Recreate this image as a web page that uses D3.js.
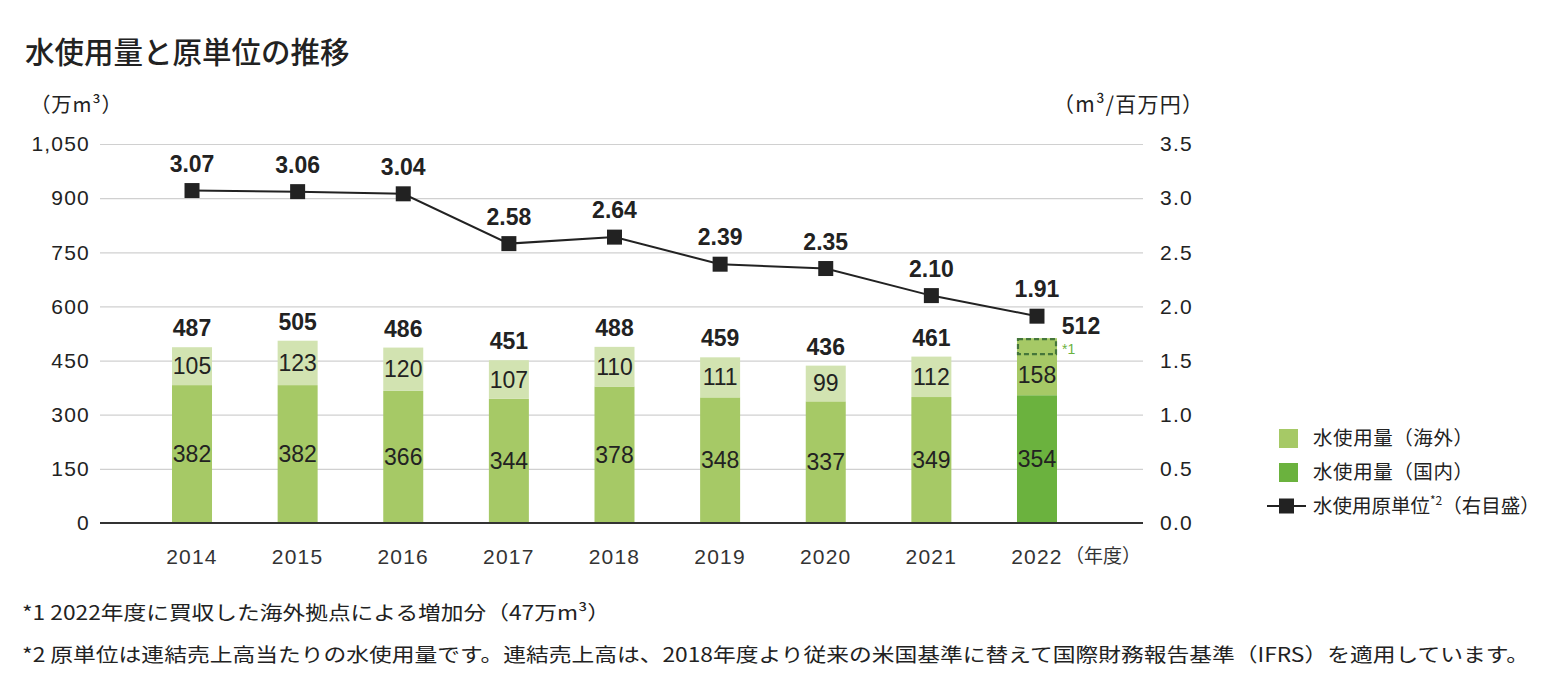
<!DOCTYPE html>
<html>
<head>
<meta charset="utf-8">
<script src="https://cdn.jsdelivr.net/npm/d3@7/dist/d3.min.js"></script>
<style>
  html, body { margin: 0; padding: 0; background: #fff; }
  svg { display: block; }
  text { font-family: "Liberation Sans", Arial, "Noto Sans CJK JP", sans-serif; fill: #222; }
  .jp { font-family: "Noto Sans CJK JP", "Liberation Sans", sans-serif; }
</style>
</head>
<body>
<svg id="chart" width="1568" height="697"></svg>
<script>
// ---- data ----
const years = ["2014", "2015", "2016", "2017", "2018", "2019", "2020", "2021", "2022"];
const domestic = [382, 382, 366, 344, 378, 348, 337, 349, 354];
const overseas = [105, 123, 120, 107, 110, 111, 99, 112, 158];
const totals = [487, 505, 486, 451, 488, 459, 436, 461, 512];
const intensity = [3.07, 3.06, 3.04, 2.58, 2.64, 2.39, 2.35, 2.10, 1.91];
const acquisitionAdd = 47; // 2022 addition from acquired overseas sites
const leftTicks = [0, 150, 300, 450, 600, 750, 900, 1050];
const rightTicks = [0, 0.5, 1.0, 1.5, 2.0, 2.5, 3.0, 3.5];
const legendLabels = ["水使用量（海外）", "水使用量（国内）", "水使用原単位"];
const title = "水使用量と原単位の推移";
const footnotes = [
  "*1 2022年度に買収した海外拠点による増加分（47万m³）",
  "*2 原単位は連結売上高当たりの水使用量です。連結売上高は、2018年度より従来の米国基準に替えて国際財務報告基準（IFRS）を適用しています。"
];

// ---- layout ----
const svg = d3.select("#chart");
const plotL = 100, plotR = 1143, plotT = 144, plotB = 523;
const cPale = "#d2e3b1", cMid = "#a6c966", cDark = "#6bb23e";

const x = d3.scaleBand().domain(years).range([139.2, 1089.8]).paddingInner(0.62).paddingOuter(0.31);
const y = d3.scaleLinear().domain([0, 1050]).range([plotB, plotT]);
const y2 = d3.scaleLinear().domain([0, 3.5]).range([plotB, plotT]);
const cx = d => x(d) + x.bandwidth() / 2;
const bw = 40;

// title
svg.append("text").attr("class", "jp").attr("x", 25).attr("y", 63)
  .attr("font-size", 29.5).attr("font-weight", 500).text(title);

// axis unit labels
svg.append("text").attr("class", "jp").attr("x", 30).attr("y", 112).attr("font-size", 20.5)
  .attr("textLength", 92).attr("lengthAdjust", "spacing").text("（万m³）");
svg.append("text").attr("class", "jp").attr("x", 1053).attr("y", 112).attr("font-size", 21)
  .attr("textLength", 150).attr("lengthAdjust", "spacing").text("（m³/百万円）");

// left axis with gridlines
const gL = svg.append("g").attr("transform", `translate(${plotL},0)`)
  .call(d3.axisLeft(y).tickValues(leftTicks).tickFormat(d3.format(",")).tickSize(-(plotR - plotL)).tickPadding(10));
gL.select(".domain").remove();
gL.selectAll(".tick line").attr("stroke", "#d0d0d0").attr("stroke-width", 1.2);
gL.selectAll(".tick text").attr("font-size", 21).attr("letter-spacing", 1.2)
  .attr("font-family", "Liberation Sans, Arial, sans-serif").attr("fill", "#333");

// right axis
const gR = svg.append("g").attr("transform", `translate(${plotR},0)`)
  .call(d3.axisRight(y2).tickValues(rightTicks).tickFormat(d3.format(".1f")).tickSize(0).tickPadding(17));
gR.select(".domain").remove();
gR.selectAll(".tick text").attr("font-size", 21).attr("letter-spacing", 1.2)
  .attr("font-family", "Liberation Sans, Arial, sans-serif").attr("fill", "#333");

// bars
const last = years.length - 1;
const bars = svg.append("g");
years.forEach((yr, i) => {
  const isLast = i === last;
  bars.append("rect").attr("x", cx(yr) - bw / 2).attr("width", bw)
    .attr("y", y(domestic[i])).attr("height", y(0) - y(domestic[i]))
    .attr("fill", isLast ? cDark : cMid);
  bars.append("rect").attr("x", cx(yr) - bw / 2).attr("width", bw)
    .attr("y", y(totals[i])).attr("height", y(domestic[i]) - y(totals[i]))
    .attr("fill", isLast ? cMid : cPale);
});
// dashed box for acquisition addition (2022)
const yrL = years[last];
bars.append("rect").attr("x", cx(yrL) - bw / 2 + 1).attr("width", bw - 2)
  .attr("y", y(totals[last]) + 1).attr("height", y(totals[last] - acquisitionAdd) - y(totals[last]) - 2)
  .attr("fill", "none").attr("stroke", "#44763a").attr("stroke-width", 2.2).attr("stroke-dasharray", "5,3");
svg.append("text").attr("x", cx(yrL) + bw / 2 + 5).attr("y", y(totals[last] - acquisitionAdd / 2) + 7)
  .attr("font-size", 14).style("fill", "#6bb23e").text("*1");

// baseline
svg.append("line").attr("x1", plotL).attr("x2", plotR).attr("y1", y(0)).attr("y2", y(0))
  .attr("stroke", "#333").attr("stroke-width", 2);

// bar value labels
const lbl = svg.append("g").attr("font-size", 23).attr("text-anchor", "middle");
years.forEach((yr, i) => {
  lbl.append("text").attr("x", cx(yr)).attr("y", y(domestic[i] / 2) + 8).text(domestic[i]);
  const topEnd = i === last ? totals[i] - acquisitionAdd : totals[i];
  lbl.append("text").attr("x", cx(yr)).attr("y", y((domestic[i] + topEnd) / 2) + 8).text(overseas[i]);
  if (i === last) {
    lbl.append("text").attr("x", cx(yr) + 44).attr("y", y(totals[i]) - 4).attr("font-weight", "bold").text(totals[i]);
  } else {
    lbl.append("text").attr("x", cx(yr)).attr("y", y(totals[i]) - 11).attr("font-weight", "bold").text(totals[i]);
  }
});

// intensity line
const lineGen = d3.line().x((d, i) => cx(years[i])).y(d => y2(d));
svg.append("path").datum(intensity).attr("d", lineGen)
  .attr("fill", "none").attr("stroke", "#222").attr("stroke-width", 2);
const ms = 15;
svg.append("g").selectAll("rect").data(intensity).join("rect")
  .attr("x", (d, i) => cx(years[i]) - ms / 2).attr("y", d => y2(d) - ms / 2)
  .attr("width", ms).attr("height", ms).attr("fill", "#222");
svg.append("g").attr("font-size", 23).attr("font-weight", "bold").attr("text-anchor", "middle")
  .selectAll("text").data(intensity).join("text")
  .attr("x", (d, i) => cx(years[i])).attr("y", d => y2(d) - 19)
  .text(d => d3.format(".2f")(d));

// x labels
svg.append("g").attr("font-size", 21).attr("letter-spacing", 1.2).attr("text-anchor", "middle")
  .selectAll("text").data(years).join("text")
  .attr("x", d => cx(d)).attr("y", 564).style("fill", "#333").text(d => d);
svg.append("text").attr("class", "jp").attr("x", cx(yrL) + 28).attr("y", 563).attr("font-size", 19)
  .style("fill", "#333").text("（年度）");

// legend
const lg = svg.append("g");
lg.append("rect").attr("x", 1279).attr("y", 429).attr("width", 19).attr("height", 19).attr("fill", cMid);
lg.append("rect").attr("x", 1279).attr("y", 463).attr("width", 19).attr("height", 19).attr("fill", cDark);
lg.append("line").attr("x1", 1267).attr("x2", 1306).attr("y1", 506).attr("y2", 506).attr("stroke", "#222").attr("stroke-width", 2);
lg.append("rect").attr("x", 1279).attr("y", 498.5).attr("width", 15).attr("height", 15).attr("fill", "#222");
lg.append("text").attr("class", "jp").attr("x", 1313).attr("y", 445).attr("font-size", 19.5)
  .attr("textLength", 160).attr("lengthAdjust", "spacing").text(legendLabels[0]);
lg.append("text").attr("class", "jp").attr("x", 1313).attr("y", 479).attr("font-size", 19.5)
  .attr("textLength", 160).attr("lengthAdjust", "spacing").text(legendLabels[1]);
const t3 = lg.append("text").attr("class", "jp").attr("x", 1313).attr("y", 513).attr("font-size", 19.5);
t3.append("tspan").text(legendLabels[2]);
t3.append("tspan").attr("font-size", 12).attr("dy", -8).text("*2");
t3.append("tspan").attr("dy", 8).text("（右目盛）");

// footnotes
svg.append("text").attr("class", "jp").attr("x", 22).attr("y", 620).attr("font-size", 19.5)
  .attr("textLength", 588).attr("lengthAdjust", "spacingAndGlyphs").text(footnotes[0]);
svg.append("text").attr("class", "jp").attr("x", 22).attr("y", 662).attr("font-size", 19.5)
  .attr("textLength", 1507).attr("lengthAdjust", "spacingAndGlyphs").text(footnotes[1]);
</script>
</body>
</html>
